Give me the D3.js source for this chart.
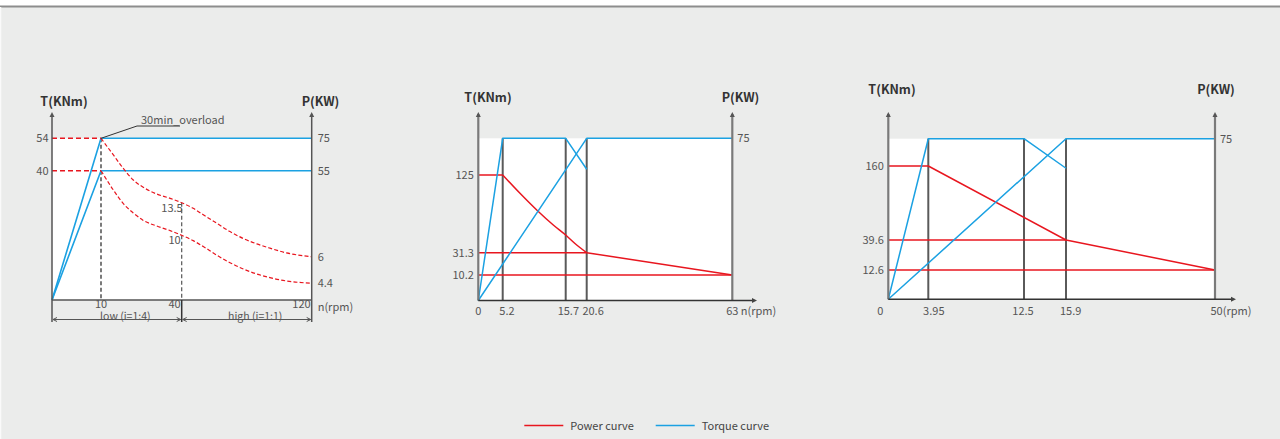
<!DOCTYPE html>
<html><head><meta charset="utf-8">
<script src="https://cdn.jsdelivr.net/npm/d3@7"></script>
<style>
body{margin:0;background:#ebeceb;overflow:hidden}
svg{display:block}
text{font-family:"Noto Sans CJK SC","Noto Sans",sans-serif;fill:#555;font-size:11px}
.title{font-weight:bold;fill:#333;font-size:12.5px}
</style>
</head><body>
<svg id="c" width="1280" height="439"></svg>
<script>
// ---------------- DATA ----------------
// Chart 1 (two-speed)
const c1SpeedBreaks = [0, 10, 40, 120];
const c1TorqueBreaks = [0, 4.4, 6, 10, 13.5, 40, 54];
const c1PowerBreaks = [0, 55, 75];
const c1XTicks = [10, 40, 120];
const c1TTicks = [54, 40];
const c1PTicks = [75, 55];
const c1EndTorqueTicks = [6, 4.4];
const c1PowerLines = [
  [[0, 0], [10, 75], [120, 75]],
  [[0, 0], [10, 55], [120, 55]]
];
const c1TorqueFlat = [
  [[0, 54], [10, 54]],
  [[0, 40], [10, 40]]
];
const c1TorqueOverload = [[10, 54], [14.6, 46.8], [18.3, 41.0], [22.0, 32.3], [25.7, 26.3], [30.7, 20.7], [35.7, 17.1], [40, 13.5],
  [47.1, 12.9], [53.3, 12.2], [61.5, 11.3], [69.7, 10.4], [77.9, 9.4], [86.2, 8.4], [94.3, 7.6], [104.6, 6.7], [120, 6]];
const c1TorqueRated = [[10, 40], [14.6, 24.0], [18.3, 13.4], [22.0, 12.4], [25.7, 11.6], [30.7, 11.0], [35.7, 10.5], [40, 10],
  [47.1, 9.0], [53.3, 7.9], [61.5, 6.3], [69.7, 5.64], [77.9, 5.26], [86.2, 4.96], [94.3, 4.74], [104.6, 4.54], [120, 4.4]];
const c1Ranges = [{from: 0, to: 40, label: "low (i=1:4)"}, {from: 40, to: 120, label: "high (i=1:1)"}];
const c1Note = "30min_overload";

// Chart 2
const c2SpeedBreaks = [0, 5.2, 15.7, 20.6, 63];
const c2TorqueBreaks = [0, 10.2, 31.3, 125];
const c2XTicks = [0, 5.2, 15.7, 20.6, 63];
const c2Guides = [5.2, 15.7, 20.6];
const c2TTicks = [125, 31.3, 10.2];
const c2PTicks = [75];
const c2Power = [
  [[0, 0], [5.2, 75], [15.7, 75], [20.6, 60.7]],
  [[0, 0], [20.6, 75], [63, 75]]
];
const c2Torque = [
  [[0, 125], [5.2, 125]],
  [[5.2, 125], [8.08, 102.9], [10.87, 82.8], [13.63, 64.7], [15.7, 52.6], [18.27, 40.6], [20.6, 31.3]],
  [[20.6, 31.3], [63, 10.2]],
  [[0, 31.3], [20.6, 31.3]],
  [[0, 10.2], [63, 10.2]]
];

// Chart 3
const c3SpeedBreaks = [0, 3.95, 12.5, 15.9, 50];
const c3TorqueBreaks = [0, 12.6, 39.6, 160];
const c3XTicks = [3.95, 12.5, 15.9];
const c3Guides = [3.95, 12.5, 15.9];
const c3TTicks = [160, 39.6, 12.6];
const c3PTicks = [75];
const c3Power = [
  [[0, 0], [3.95, 75], [12.5, 75], [15.9, 61.2]],
  [[0, 0], [15.9, 75], [50, 75]]
];
const c3Torque = [
  [[0, 160], [3.95, 160], [15.9, 39.6], [50, 12.6]],
  [[0, 39.6], [15.9, 39.6]],
  [[0, 12.6], [50, 12.6]]
];

const legendItems = [{label: "Power curve", color: "#e8161f"}, {label: "Torque curve", color: "#1ba1e2"}];

// ---------------- DRAW ----------------
const RED = "#e8161f", BLUE = "#1ba1e2";
const svg = d3.select("#c");
svg.append("rect").attr("width", 1280).attr("height", 439).attr("fill", "#ebeceb");
svg.append("rect").attr("width", 1280).attr("height", 6).attr("fill", "#fff");
svg.append("line").attr("x1", 0).attr("x2", 1280).attr("y1", 6.5).attr("y2", 6.5).attr("stroke", "#8d8d8d").attr("stroke-width", 2);
svg.append("line").attr("x1", 0.5).attr("x2", 0.5).attr("y1", 7).attr("y2", 439).attr("stroke", "#fafafa").attr("stroke-width", 1.5);

function arrowUp(g, x, y, color) {
  g.append("path").attr("d", `M${x - 2.5},${y + 5}L${x},${y}L${x + 2.5},${y + 5}Z`).attr("fill", color);
}
function arrowRight(g, x, y, color) {
  g.append("path").attr("d", `M${x - 5},${y - 2.5}L${x},${y}L${x - 5},${y + 2.5}Z`).attr("fill", color);
}
function poly(g, pts, x, y, color, opts = {}) {
  const line = d3.line().x(d => x(d[0])).y(d => y(d[1])).curve(opts.curve || d3.curveLinear);
  return g.append("path").attr("d", line(pts)).attr("fill", "none").attr("stroke", color)
    .attr("stroke-width", opts.w || 1.5).attr("stroke-dasharray", opts.dash || null)
    .attr("stroke-linejoin", "round");
}

// ===== Chart 1 =====
{
  const g = svg.append("g");
  const x = d3.scaleLinear().domain(c1SpeedBreaks).range([52, 101, 181.7, 311.7]);
  const yT = d3.scaleLinear().domain(c1TorqueBreaks).range([300, 283.3, 256.7, 235.3, 202.7, 170.7, 138.3]);
  const yP = d3.scaleLinear().domain(c1PowerBreaks).range([300, 170.7, 138.3]);
  const x0 = x(0), x1 = x(120), yb = yT(0);
  g.append("rect").attr("x", x0).attr("y", yP(75)).attr("width", x1 - x0).attr("height", yb - yP(75)).attr("fill", "#fff");

  // dashed guides
  g.append("line").attr("x1", x(10)).attr("x2", x(10)).attr("y1", yT(54)).attr("y2", yb).attr("stroke", "#222").attr("stroke-width", 1.2).attr("stroke-dasharray", "4,2.5");
  g.append("line").attr("x1", x(40)).attr("x2", x(40)).attr("y1", yT(13.5)).attr("y2", yb).attr("stroke", "#555").attr("stroke-width", 1.2).attr("stroke-dasharray", "4,2.5");

  c1PowerLines.forEach(p => poly(g, p, x, yP, BLUE, {w: 1.6}));
  c1TorqueFlat.forEach(p => poly(g, p, x, yT, RED, {w: 1.4, dash: "5,3"}));
  poly(g, c1TorqueOverload, x, yT, RED, {w: 1.2, dash: "4,2.2", curve: d3.curveMonotoneX});
  poly(g, c1TorqueRated, x, yT, RED, {w: 1.2, dash: "4,2.2", curve: d3.curveMonotoneX});

  // axes
  const axc = "#555";
  g.append("line").attr("x1", x0).attr("x2", x0).attr("y1", 114).attr("y2", 322).attr("stroke", axc).attr("stroke-width", 1.5);
  g.append("line").attr("x1", x1).attr("x2", x1).attr("y1", 114).attr("y2", 322).attr("stroke", axc).attr("stroke-width", 1.5);
  arrowUp(g, x0, 112, axc); arrowUp(g, x1, 112, axc);
  g.append("line").attr("x1", x0).attr("x2", x1).attr("y1", yb).attr("y2", yb).attr("stroke", axc).attr("stroke-width", 1.5);
  g.append("line").attr("x1", x(40)).attr("x2", x(40)).attr("y1", yb).attr("y2", 322).attr("stroke", "#333").attr("stroke-width", 1.5);

  // range bracket
  const by = 319.5;
  c1Ranges.forEach(r => {
    const a = x(r.from) + 1, b = x(r.to) - 1;
    g.append("line").attr("x1", a).attr("x2", b).attr("y1", by).attr("y2", by).attr("stroke", "#555").attr("stroke-width", 1);
    g.append("path").attr("d", `M${a + 4},${by - 2}L${a},${by}L${a + 4},${by + 2}`).attr("fill", "none").attr("stroke", "#555");
    g.append("path").attr("d", `M${b - 4},${by - 2}L${b},${by}L${b - 4},${by + 2}`).attr("fill", "none").attr("stroke", "#555");
    g.append("text").attr("x", (x(r.from) + x(r.to)) / 2 + 8.5).attr("y", 319.5).style("font-size", "10.5px").attr("text-anchor", "middle").text(r.label);
  });

  // ticks
  c1XTicks.forEach(v => {
    const anchor = v === 10 ? "middle" : "end";
    const xx = v === 10 ? x(v) : x(v) - 1;
    g.append("text").attr("x", xx).attr("y", 308).attr("text-anchor", anchor).text(v);
  });
  g.append("text").attr("x", x1 + 6).attr("y", 311).text("n(rpm)");
  c1TTicks.forEach(v => g.append("text").attr("x", x0 - 3.5).attr("y", yT(v) + 4).attr("text-anchor", "end").text(v));
  c1PTicks.forEach(v => g.append("text").attr("x", x1 + 6).attr("y", yP(v) + 4).text(v));
  c1EndTorqueTicks.forEach(v => g.append("text").attr("x", x1 + 6).attr("y", yT(v) + 4).text(v));
  g.append("text").attr("x", x(40) + 1).attr("y", yT(13.5) + 9).attr("text-anchor", "end").text("13.5");
  g.append("text").attr("x", x(40) - 1).attr("y", yT(10) + 8.5).attr("text-anchor", "end").text("10");

  // note
  g.append("path").attr("d", `M${x(10)},${yT(54)}L137,126H180`).attr("fill", "none").attr("stroke", "#333").attr("stroke-width", 1);
  g.append("text").attr("x", 141).attr("y", 124).text(c1Note);

  g.append("text").attr("class", "title").attr("x", 64).attr("y", 106).attr("text-anchor", "middle").text("T(KNm)");
  g.append("text").attr("class", "title").attr("x", 320.5).attr("y", 106).attr("text-anchor", "middle").text("P(KW)");
}

// ===== Chart 2 & 3 (shared style) =====
function drawChart(cfg) {
  const g = svg.append("g");
  const x = d3.scaleLinear().domain(cfg.speedBreaks).range(cfg.xr);
  const yT = d3.scaleLinear().domain(cfg.torqueBreaks).range(cfg.yTr);
  const yP = d3.scaleLinear().domain([0, 75]).range(cfg.yPr);
  const x0 = cfg.xr[0], x1 = cfg.xr[cfg.xr.length - 1], yb = cfg.yPr[0], yt = yP(75);
  g.append("rect").attr("x", x0).attr("y", yt).attr("width", x1 - x0).attr("height", yb - yt).attr("fill", "#fff");
  cfg.guides.forEach(v => g.append("line").attr("x1", x(v)).attr("x2", x(v)).attr("y1", yt).attr("y2", yb).attr("stroke", "#5a5a5a").attr("stroke-width", 2));
  cfg.torque.forEach(p => poly(g, p, x, yT, RED, {w: 1.5, curve: p.length > 4 ? d3.curveMonotoneX : d3.curveLinear}));
  cfg.power.forEach(p => poly(g, p, x, yP, BLUE, {w: 1.5}));
  // axes
  g.append("line").attr("x1", x0).attr("x2", x0).attr("y1", 114).attr("y2", yb).attr("stroke", "#7a7a7a").attr("stroke-width", 2.2);
  g.append("line").attr("x1", x1).attr("x2", x1).attr("y1", 114).attr("y2", yb).attr("stroke", "#7a7a7a").attr("stroke-width", 2.2);
  arrowUp(g, x0, 112, "#555"); arrowUp(g, x1, 112, "#555");
  g.append("line").attr("x1", x0).attr("x2", cfg.arrowX - 3).attr("y1", yb).attr("y2", yb).attr("stroke", "#333").attr("stroke-width", 1.5);
  arrowRight(g, cfg.arrowX, yb, "#444");
  // ticks
  cfg.xTicks.forEach((v, i) => {
    const o = cfg.xOff[i];
    g.append("text").attr("x", x(v) + o[0]).attr("y", 314.5).attr("text-anchor", o[1]).text(v);
  });
  cfg.tTicks.forEach(v => g.append("text").attr("x", x0 - 4.5).attr("y", yT(v) + 4).attr("text-anchor", "end").text(v));
  cfg.pTicks.forEach(v => g.append("text").attr("x", x1 + 5).attr("y", yP(v) + 4).text(v));
  cfg.extra(g, x);
  g.append("text").attr("class", "title").attr("x", cfg.tTitle[0]).attr("y", cfg.tTitle[1]).attr("text-anchor", "middle").text("T(KNm)");
  g.append("text").attr("class", "title").attr("x", cfg.pTitle[0]).attr("y", cfg.pTitle[1]).attr("text-anchor", "middle").text("P(KW)");
}

drawChart({
  speedBreaks: c2SpeedBreaks, torqueBreaks: c2TorqueBreaks,
  xr: [478.3, 502.7, 565.7, 586.7, 732.3], yTr: [300.5, 275, 252.7, 175], yPr: [300.5, 138.3],
  guides: c2Guides, torque: c2Torque, power: c2Power, arrowX: 757,
  xTicks: c2XTicks.slice(0, 4), xOff: [[0, "middle"], [4.3, "middle"], [13.3, "end"], [-4.3, "start"]],
  tTicks: c2TTicks, pTicks: c2PTicks,
  tTitle: [488, 102], pTitle: [740.5, 102],
  extra: (g, x) => {
    g.append("text").attr("x", x(63)).attr("y", 314.5).attr("text-anchor", "middle").text(c2XTicks[4]);
    g.append("text").attr("x", x(63) + 8.5).attr("y", 314.5).text("n(rpm)");
  }
});

drawChart({
  speedBreaks: c3SpeedBreaks, torqueBreaks: c3TorqueBreaks,
  xr: [888.3, 928.3, 1024, 1066, 1215], yTr: [299.3, 270, 240, 166], yPr: [299.3, 138.7],
  guides: c3Guides, torque: c3Torque, power: c3Power, arrowX: 1236,
  xTicks: c3XTicks, xOff: [[5.5, "middle"], [-1, "middle"], [4.7, "middle"]],
  tTicks: c3TTicks, pTicks: c3PTicks,
  tTitle: [892, 94], pTitle: [1216, 94],
  extra: (g, x) => {
    g.append("text").attr("x", x(0) - 8).attr("y", 314.5).attr("text-anchor", "middle").text("0");
    g.append("text").attr("x", x(50) - 4.5).attr("y", 314.5).text("50(rpm)");
  }
});

// legend
{
  const g = svg.append("g");
  const starts = [524.3, 655.7];
  legendItems.forEach((d, i) => {
    g.append("line").attr("x1", starts[i]).attr("x2", starts[i] + 39).attr("y1", 425.5).attr("y2", 425.5).attr("stroke", d.color).attr("stroke-width", 1.3);
    g.append("text").attr("x", starts[i] + 46).attr("y", 429.5).style("fill", "#444").text(d.label);
  });
}
</script>
</body></html>
